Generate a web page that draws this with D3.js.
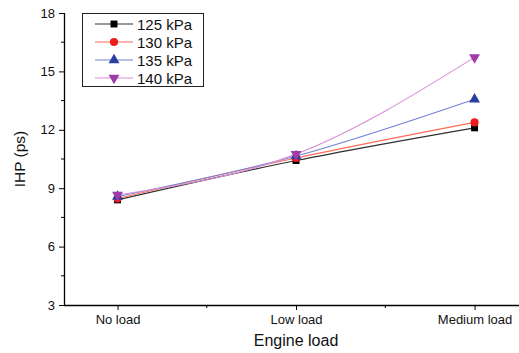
<!DOCTYPE html>
<html>
<head>
<meta charset="utf-8">
<script src="https://cdn.jsdelivr.net/npm/d3@7"></script>
<style>
  body { margin: 0; background: #fff; }
  text { font-family: "Liberation Sans", Arial, sans-serif; fill: #111; }
</style>
</head>
<body>
<div id="chart"></div>
<script>
var loads = ['No load', 'Low load', 'Medium load'];
var series_names = ['125 kPa', '130 kPa', '135 kPa', '140 kPa'];
var ihp_125 = [8.4, 10.42, 12.1];
var ihp_130 = [8.47, 10.55, 12.38];
var ihp_135 = [8.57, 10.65, 13.57];
var ihp_140 = [8.65, 10.75, 15.72];
var y_ticks = [3, 6, 9, 12, 15, 18];

var W = 519, H = 353;
var margin = { top: 13, left: 64, bottom: 48, right: 0 };

var series = [
    { name: series_names[0], values: ihp_125, line: '#303030', fill: '#000000', symbol: d3.symbolSquare, size: 48, rot: 0 },
    { name: series_names[1], values: ihp_130, line: '#ff6a55', fill: '#ee1c1c', symbol: d3.symbolCircle, size: 52, rot: 0 },
    { name: series_names[2], values: ihp_135, line: '#7480d6', fill: '#2a40a0', symbol: d3.symbolTriangle, size: 52, rot: 0 },
    { name: series_names[3], values: ihp_140, line: '#d890d8', fill: '#a03ca8', symbol: d3.symbolTriangle, size: 52, rot: 180 }
];

var svg = d3.select('#chart').append('svg')
    .attr('width', W)
    .attr('height', H);

// category index -> pixels; axis runs from -0.3 to past the right edge
var sx = d3.scaleLinear()
    .domain([-0.3, 2.3])
    .range([margin.left, margin.left + 2.6 * 178.5]);
var sy = d3.scaleLinear()
    .domain([3, 18])
    .range([H - margin.bottom, margin.top]);

// y axis
var ay = d3.axisLeft(sy)
    .tickValues(y_ticks)
    .tickSize(5)
    .tickPadding(4)
    .tickFormat(d3.format('d'));
var gy = svg.append('g')
    .attr('transform', 'translate(' + margin.left + ',0)')
    .call(ay);
gy.selectAll('text').style('font-size', '13px');
// minor y ticks
[4.5, 7.5, 10.5, 13.5, 16.5].forEach(function(v) {
    gy.append('line')
        .attr('x1', -3).attr('x2', 0)
        .attr('y1', sy(v)).attr('y2', sy(v))
        .attr('stroke', '#000');
});

// x axis
var ax = d3.axisBottom(sx)
    .tickValues([0, 1, 2])
    .tickSize(5)
    .tickPadding(5)
    .tickFormat(function(d) { return loads[d]; });
var gx = svg.append('g')
    .attr('transform', 'translate(0,' + (H - margin.bottom) + ')')
    .call(ax);
gx.select('.domain').attr('d', 'M' + margin.left + ',0.5H' + W);
gx.selectAll('text').style('font-size', '13px');
[0.5, 1.5].forEach(function(v) {
    gx.append('line')
        .attr('x1', sx(v)).attr('x2', sx(v))
        .attr('y1', 0).attr('y2', 3)
        .attr('stroke', '#000');
});
svg.selectAll('.domain').attr('stroke-width', 1.3);
gy.select('.domain').attr('d', 'M0.5,' + sy(18) + 'V' + (sy(3) + 0.5));

// axis titles
svg.append('text')
    .attr('x', sx(1))
    .attr('y', 346)
    .attr('text-anchor', 'middle')
    .style('font-size', '16px')
    .text('Engine load');
svg.append('text')
    .attr('transform', 'translate(25,' + sy(10.5) + ') rotate(-90)')
    .attr('text-anchor', 'middle')
    .style('font-size', '15.5px')
    .text('IHP (ps)');

// lines and markers
var line = d3.line()
    .x(function(d, i) { return sx(i); })
    .y(function(d) { return sy(d); })
    .curve(d3.curveMonotoneX);

series.forEach(function(s) {
    svg.append('path')
        .attr('d', line(s.values))
        .attr('fill', 'none')
        .attr('stroke', s.line)
        .attr('stroke-width', 1.1);
});
series.forEach(function(s) {
    svg.selectAll(null)
        .data(s.values)
        .enter().append('path')
        .attr('d', d3.symbol().type(s.symbol).size(s.size))
        .attr('transform', function(d, i) {
            return 'translate(' + sx(i) + ',' + sy(d) + ') rotate(' + s.rot + ')';
        })
        .attr('fill', s.fill);
});

// legend
var lg = svg.append('g').attr('transform', 'translate(82,13)');
lg.append('rect')
    .attr('x', 0.5).attr('y', 0.5)
    .attr('width', 121).attr('height', 73)
    .attr('fill', '#fff')
    .attr('stroke', '#222');
series.forEach(function(s, i) {
    var y = 11 + i * 18;
    lg.append('line')
        .attr('x1', 13).attr('x2', 51)
        .attr('y1', y).attr('y2', y)
        .attr('stroke', s.line)
        .attr('stroke-width', 1.1);
    lg.append('path')
        .attr('d', d3.symbol().type(s.symbol).size(s.size))
        .attr('transform', 'translate(32,' + y + ') rotate(' + s.rot + ')')
        .attr('fill', s.fill);
    lg.append('text')
        .attr('x', 55)
        .attr('y', y + 5.5)
        .style('font-size', '15px')
        .text(s.name);
});
</script>
</body>
</html>
